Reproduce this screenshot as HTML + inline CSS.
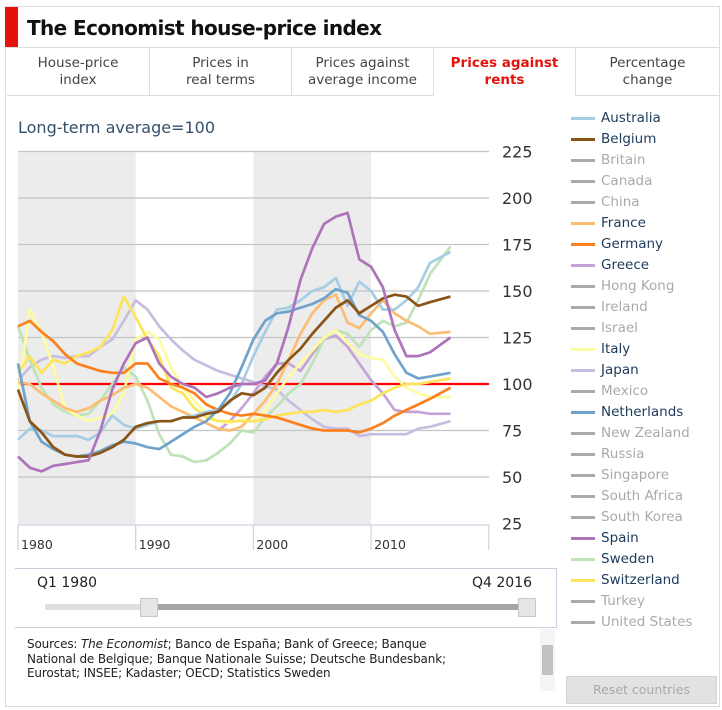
<!DOCTYPE html>
<html><head><meta charset="utf-8"><style>
*{box-sizing:border-box;margin:0;padding:0}
body{width:722px;height:710px;background:#fff;font-family:"DejaVu Sans","Liberation Sans",sans-serif;position:relative;overflow:hidden}
.abs{position:absolute}
.tab{position:absolute;top:47px;height:49px;border-right:1px solid #ddd;border-bottom:1px solid #ddd;text-align:center;font-size:13.5px;line-height:17px;color:#444;padding-top:7px;background:#fff}
.leg{position:absolute;left:571px;font-size:13.5px;height:20px;line-height:20px;color:#aaa}
.leg i{position:absolute;left:0;top:9px;width:24px;height:3px;background:#aaa}
.leg span{position:absolute;left:30px;white-space:nowrap}
</style></head><body>
<div class="abs" style="left:5px;top:6px;width:715px;height:701px;border:1px solid #ddd"></div>
<div class="abs" style="left:5px;top:7px;width:13px;height:40px;background:#e3120b"></div>
<div class="abs" style="left:27px;top:16px;font-size:20px;font-weight:bold;color:#111;font-family:'DejaVu Sans',sans-serif;letter-spacing:-0.6px">The Economist house-price index</div>
<div class="tab" style="left:7px;width:143px;border-top:1px solid #ddd">House-price<br>index</div>
<div class="tab" style="left:150px;width:142px;border-top:1px solid #ddd">Prices in<br>real terms</div>
<div class="tab" style="left:292px;width:142px;border-top:1px solid #ddd">Prices against<br>average income</div>
<div class="tab" style="left:434px;width:142px;border-top:1px solid #ddd;border-bottom:none;color:#e3120b;font-weight:bold">Prices against<br>rents</div>
<div class="tab" style="left:576px;width:143px;border-top:1px solid #ddd;border-right:none">Percentage<br>change</div>
<div class="abs" style="left:18px;top:118px;font-size:16px;color:#34506b">Long-term average=100</div>

<svg class="abs" style="left:0;top:0" width="722" height="710">
<g id="bands"></g><g id="grid"></g><g id="xaxis"></g><g id="series"></g>
</svg>

<div id="legend"></div>

<div class="abs" style="left:15px;top:568px;width:542px;height:60px;border-top:1px solid #ccd;border-right:1px solid #ccd;border-bottom:1px solid #ccd"></div>
<div class="abs" style="left:37px;top:575px;font-size:14px;color:#222">Q1 1980</div>
<div class="abs" style="left:472px;top:575px;font-size:14px;color:#222">Q4 2016</div>
<div class="abs" style="left:45px;top:604px;width:480px;height:6px;background:#e0e0e0"></div>
<div class="abs" style="left:150px;top:604px;width:375px;height:6px;background:#a6a6a6"></div>
<div class="abs" style="left:140px;top:598px;width:18px;height:19px;background:#e6e6e6;border:1px solid #c8c8c8"></div>
<div class="abs" style="left:518px;top:598px;width:18px;height:19px;background:#e6e6e6;border:1px solid #c8c8c8"></div>
<div class="abs" style="left:27px;top:637px;font-size:12px;line-height:14.5px;color:#222;white-space:nowrap;letter-spacing:-0.15px">Sources: <i>The Economist</i>; Banco de España; Bank of Greece; Banque<br>National de Belgique; Banque Nationale Suisse; Deutsche Bundesbank;<br>Eurostat; INSEE; Kadaster; OECD; Statistics Sweden</div>
<div class="abs" style="left:540px;top:629px;width:15px;height:62px;background:#f4f4f4"><div style="position:absolute;left:2px;top:16px;width:11px;height:30px;background:#c1c1c1"></div></div>
<div class="abs" style="left:566px;top:676px;width:151px;height:28px;background:#e2e2e2;border:1px solid #d4d4d4;color:#a8a8a8;font-size:12.5px;text-align:center;line-height:26px">Reset countries</div>

<script>
const years=[];for(let y=1980;y<=2016;y++)years.push(y);
const yTicks=[225,200,175,150,125,100,75,50,25];
const xTickYears=[1980,1990,2000,2010];
const australia=[70,76,75,72,72,72,70,74,83,78,76,78,80,80,82,83,85,86,90,100,115,128,140,141,145,150,152,157,142,155,150,140,140,145,152,165,171];
const belgium=[97,80,74,66,62,61,61,63,66,70,77,79,80,80,82,82,84,85,91,95,94,98,106,113,119,127,134,141,145,138,142,146,148,147,142,144,147];
const france=[101,100,95,91,87,85,87,91,94,98,100,98,93,88,85,82,79,76,75,77,84,91,100,113,127,138,145,148,133,130,138,145,138,134,131,127,128];
const germany=[131,134,128,123,116,111,109,107,106,106,111,111,103,100,98,95,89,86,84,83,84,83,82,80,78,76,75,75,75,74,76,79,83,86,89,92,98];
const greece=[null,null,null,null,null,null,null,null,null,null,null,null,null,null,null,null,null,75,80,87,95,104,111,111,107,116,124,126,120,111,102,95,86,85,85,84,84];
const italy=[95,140,128,109,87,83,80,82,84,95,124,128,124,109,98,91,84,80,79,81,80,86,95,104,111,118,125,129,122,116,114,113,104,98,95,93,93];
const japan=[102,109,113,115,114,115,115,120,124,134,145,140,131,124,118,113,110,107,105,103,101,99,97,91,86,81,77,76,76,72,73,73,73,73,76,77,80];
const netherlands=[111,80,69,65,62,61,62,64,67,69,68,66,65,69,73,77,80,86,95,109,124,134,138,139,141,143,146,151,149,137,134,128,116,106,103,104,106];
const spain=[61,55,53,56,57,58,59,75,97,111,122,125,111,104,100,98,93,95,98,100,100,102,111,131,156,173,186,190,192,167,163,152,129,115,115,117,125];
const sweden=[131,113,98,89,85,83,84,91,100,109,104,91,73,62,61,58,59,63,68,75,74,82,88,95,100,111,124,129,127,120,129,134,131,133,145,159,174];
const switzerland=[106,115,106,113,111,115,117,120,129,147,136,124,115,98,95,87,82,80,80,80,80,81,83,84,85,85,86,85,86,89,91,95,98,100,100,101,103];
const countries=["Australia","Belgium","Britain","Canada","China","France","Germany","Greece","Hong Kong","Ireland","Israel","Italy","Japan","Mexico","Netherlands","New Zealand","Russia","Singapore","South Africa","South Korea","Spain","Sweden","Switzerland","Turkey","United States"];
const seriesData={"Australia":australia,"Belgium":belgium,"France":france,"Germany":germany,"Greece":greece,"Italy":italy,"Japan":japan,"Netherlands":netherlands,"Spain":spain,"Sweden":sweden,"Switzerland":switzerland};
const colors={"Australia":"#a6cde4","Belgium":"#8a5416","France":"#fcbd72","Germany":"#fb8020","Greece":"#c6a3d6","Italy":"#fefca0","Japan":"#c7bedf","Netherlands":"#6fa3cc","Spain":"#ad73bb","Sweden":"#bfe2b8","Switzerland":"#fde55b"};
const drawOrder=["Greece","Japan","Sweden","Italy","France","Switzerland","Germany","Australia","Netherlands","Belgium","Spain"];

const NS="http://www.w3.org/2000/svg";
const X=y=>18+(y-1980)*11.77;
const Y=v=>384-(v-100)*1.86;
function mk(tag,attrs,parent){const e=document.createElementNS(NS,tag);for(const k in attrs)e.setAttribute(k,attrs[k]);parent.appendChild(e);return e;}
const bands=document.getElementById('bands'),grid=document.getElementById('grid'),xa=document.getElementById('xaxis'),ser=document.getElementById('series');
[[1980,1990],[2000,2010]].forEach(b=>{
  const r=mk('rect',{x:X(b[0]),y:Y(225),width:X(b[1])-X(b[0]),height:Y(25)-Y(225)+1,fill:'#ececec'},bands);
  
  
});
yTicks.forEach(t=>{
  if(t>25){const l=mk('line',{x1:18,x2:489,y1:Y(t),y2:Y(t),stroke:'#c4c4c4','stroke-width':1.3},grid);
  
  }
  const tx=mk('text',{x:502,y:Y(t)+6,'font-size':16,fill:'#333','font-family':'DejaVu Sans, sans-serif'},grid);
  tx.textContent=t;
  
  
});
const ax=mk('line',{x1:18,x2:489,y1:525,y2:525,stroke:'#c9d4e0','stroke-width':1.2},xa);


xTickYears.concat([2020]).forEach(yr=>{
  const l=mk('line',{x1:X(yr),x2:X(yr),y1:525,y2:550,stroke:'#c9d4e0','stroke-width':1.2},xa);
  
  
});
xTickYears.forEach(yr=>{
  const t=mk('text',{x:X(yr)+3,y:549,'font-size':12.5,fill:'#333','font-family':'DejaVu Sans, sans-serif'},xa);
  t.textContent=yr;
  
  
});
const ref=mk('line',{x1:18,x2:489,y1:Y(100),y2:Y(100),stroke:'#f00','stroke-width':2.2},grid);


drawOrder.forEach(c=>{
  const vals=seriesData[c];let d='';let started=false;
  vals.forEach((v,i)=>{if(v==null)return;const yr=i===vals.length-1?2016.75:years[i];d+=(started?'L':'M')+X(yr).toFixed(1)+','+Y(v).toFixed(1);started=true;});
  const p=mk('path',{d:d,fill:'none',stroke:colors[c],'stroke-width':2.7,'stroke-linejoin':'round'},ser);
  
  
});
const lg=document.getElementById('legend');
countries.forEach((c,i)=>{
  const d=document.createElement('div');d.className='leg';d.style.top=(108+i*21)+'px';
  
  
  const on=!!colors[c];
  d.innerHTML='<i style="background:'+(on?colors[c]:'#aaa')+'"></i><span style="color:'+(on?'#1d3a5a':'#aaa')+'">'+c+'</span>';
  lg.appendChild(d);
});
</script>
</body></html>
